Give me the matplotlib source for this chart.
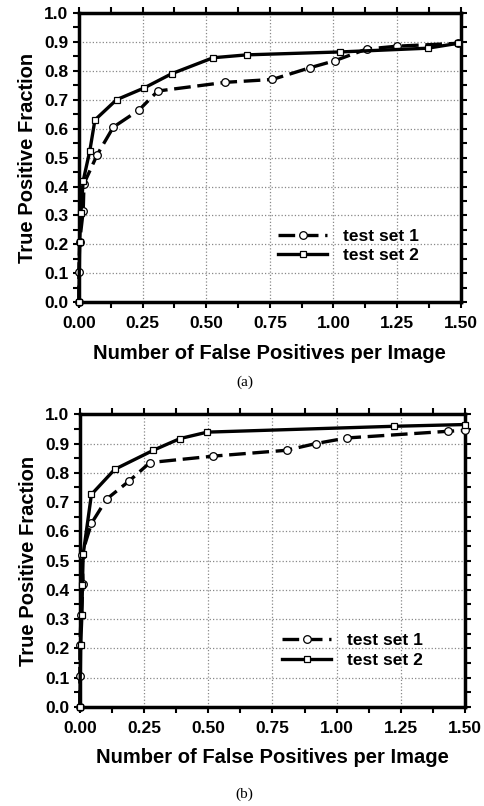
import matplotlib
matplotlib.use('Agg')
import matplotlib.pyplot as plt
from matplotlib.ticker import MultipleLocator, FormatStrFormatter

plt.rcParams['font.family'] = ['Liberation Sans', 'DejaVu Sans']

# panel (a)
fp_a1 = [0.0, 0.0, 0.003, 0.017, 0.02, 0.072, 0.135, 0.237, 0.31, 0.575, 0.76, 0.906, 1.006, 1.13, 1.25, 1.49]
tp_a1 = [0.0, 0.105, 0.209, 0.316, 0.41, 0.51, 0.605, 0.665, 0.73, 0.76, 0.77, 0.81, 0.835, 0.875, 0.885, 0.895]
fp_a2 = [0.0, 0.003, 0.008, 0.017, 0.043, 0.063, 0.148, 0.255, 0.365, 0.527, 0.66, 1.025, 1.37, 1.49]
tp_a2 = [0.0, 0.209, 0.31, 0.42, 0.524, 0.63, 0.70, 0.74, 0.79, 0.845, 0.855, 0.865, 0.878, 0.895]

# panel (b)
fp_b1 = [0.0, 0.0, 0.0, 0.005, 0.013, 0.007, 0.045, 0.104, 0.192, 0.273, 0.52, 0.805, 0.919, 1.039, 1.435, 1.5]
tp_b1 = [0.0, 0.105, 0.212, 0.314, 0.42, 0.519, 0.627, 0.71, 0.772, 0.835, 0.857, 0.877, 0.90, 0.919, 0.942, 0.945]
fp_b2 = [0.0, 0.003, 0.008, 0.01, 0.013, 0.045, 0.136, 0.286, 0.39, 0.496, 1.223, 1.5]
tp_b2 = [0.0, 0.21, 0.314, 0.416, 0.522, 0.726, 0.812, 0.877, 0.917, 0.939, 0.959, 0.965]

labels = ['test set 1', 'test set 2']
captions = ['(a)', '(b)']

fig = plt.figure(figsize=(4.84, 8.06), dpi=100)
ax_a = fig.add_axes([0.163, 0.625, 0.789, 0.359])
ax_b = fig.add_axes([0.165, 0.123, 0.796, 0.363])


def dibuja_panel(ax, fp1, tp1, fp2, tp2, caption, cap_y):
    ax.plot(fp1, tp1, color='black', lw=2.4, dashes=(5, 2), marker='o', ms=5.5,
            mfc='white', mec='black', mew=0.9, label=labels[0], clip_on=False, zorder=3)
    ax.plot(fp2, tp2, color='black', lw=2.4, marker='s', ms=5,
            mfc='white', mec='black', mew=0.9, label=labels[1], clip_on=False, zorder=3)
    ax.set_xlim(0, 1.5)
    ax.set_ylim(0, 1.0)
    ax.xaxis.set_major_locator(MultipleLocator(0.25))
    ax.xaxis.set_minor_locator(MultipleLocator(0.125))
    ax.yaxis.set_major_locator(MultipleLocator(0.1))
    ax.yaxis.set_minor_locator(MultipleLocator(0.05))
    ax.xaxis.set_major_formatter(FormatStrFormatter('%.2f'))
    ax.yaxis.set_major_formatter(FormatStrFormatter('%.1f'))
    ax.tick_params(which='both', direction='out', top=True, right=True,
                   width=1.5, length=4, labelsize=12.5)
    ax.tick_params(axis='x', pad=6)
    for lab in ax.get_xticklabels() + ax.get_yticklabels():
        lab.set_fontweight('bold')
    for sp in ax.spines.values():
        sp.set_linewidth(2.5)
    ax.grid(True, which='major', color='#888888', linestyle=':', linewidth=0.9)
    ax.set_xlabel('Number of False Positives per Image', fontsize=14.5, fontweight='bold', labelpad=9)
    ax.set_ylabel('True Positive Fraction', fontsize=14.5, fontweight='bold', labelpad=5)
    ax.legend(loc='lower right', bbox_to_anchor=(0.93, 0.08), frameon=False,
              handlelength=2.8, prop={'weight': 'bold', 'size': 12.5},
              labelspacing=0.25, handletextpad=0.9)
    fig.text(0.505, cap_y, caption, ha='center', va='center',
             fontsize=11, family='Liberation Serif')


dibuja_panel(ax_a, fp_a1, tp_a1, fp_a2, tp_a2, captions[0], 1 - 382 / 806)
dibuja_panel(ax_b, fp_b1, tp_b1, fp_b2, tp_b2, captions[1], 1 - 794 / 806)

fig.savefig('out.png', dpi=100)
